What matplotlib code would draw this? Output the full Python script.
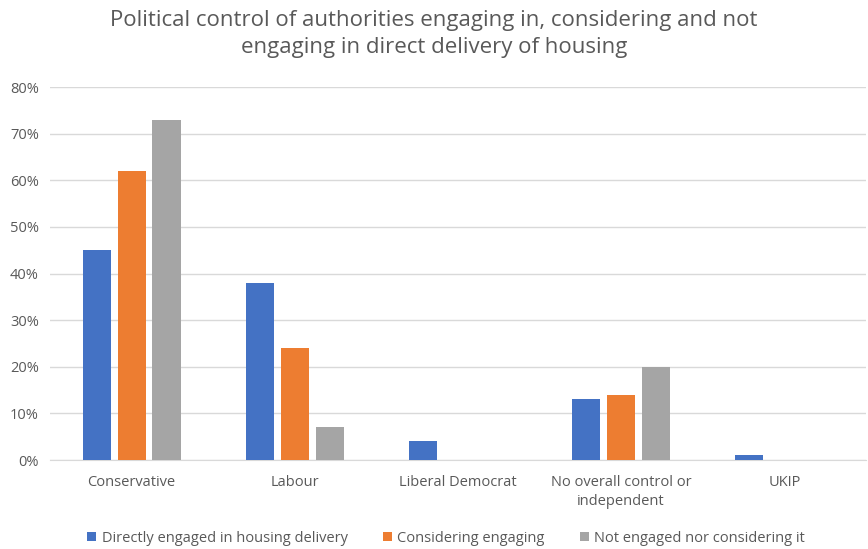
import numpy as np
import matplotlib.pyplot as plt
from matplotlib.ticker import PercentFormatter

plt.rcParams['font.family'] = ['Open Sans', 'DejaVu Sans']

categories = ['Conservative', 'Labour', 'Liberal Democrat',
              'No overall control or\nindependent', 'UKIP']
engaged = [45, 38, 4, 13, 1]
considering = [62, 24, 0, 14, 0]
not_engaged = [73, 7, 0, 20, 0]
series_names = ['Directly engaged in housing delivery', 'Considering engaging',
                'Not engaged nor considering it']

colors = ['#4472C4', '#ED7D31', '#A5A5A5']
text_col = '#595959'

fig = plt.figure(figsize=(8.68, 5.49), dpi=100)
ax = fig.add_axes([0.0576, 0.162, 0.94, 0.6795])

x = np.arange(len(categories))
w = 0.172
step = 0.214
for i, (vals, name) in enumerate(zip([engaged, considering, not_engaged], series_names)):
    ax.bar(x + (i - 1) * step, vals, width=w, color=colors[i], label=name, zorder=3)

ax.set_xlim(-0.5, len(categories) - 0.5)
ax.set_ylim(0, 80)
ax.set_yticks(np.arange(0, 81, 10))
ax.yaxis.set_major_formatter(PercentFormatter(decimals=0))
ax.set_xticks(x)
ax.set_xticklabels(categories, linespacing=1.3)
ax.grid(axis='y', color='#D9D9D9', linewidth=1, zorder=0)
for s in ['top', 'right', 'left']:
    ax.spines[s].set_visible(False)
ax.spines['bottom'].set_color('#D9D9D9')
ax.tick_params(axis='both', length=0, colors=text_col, labelsize=10.5)
ax.tick_params(axis='x', pad=11)
ax.tick_params(axis='y', pad=8)

fig.suptitle('Political control of authorities engaging in, considering and not\n'
             'engaging in direct delivery of housing',
             y=0.982, fontsize=16, color=text_col, linespacing=1.4)

fig.legend(loc='lower center', bbox_to_anchor=(0.514, -0.018), ncol=3, frameon=False,
           fontsize=10.5, labelcolor=text_col, handlelength=0.6, handleheight=0.6,
           handletextpad=0.4, columnspacing=2.4)

fig.savefig('out.png', dpi=100)
